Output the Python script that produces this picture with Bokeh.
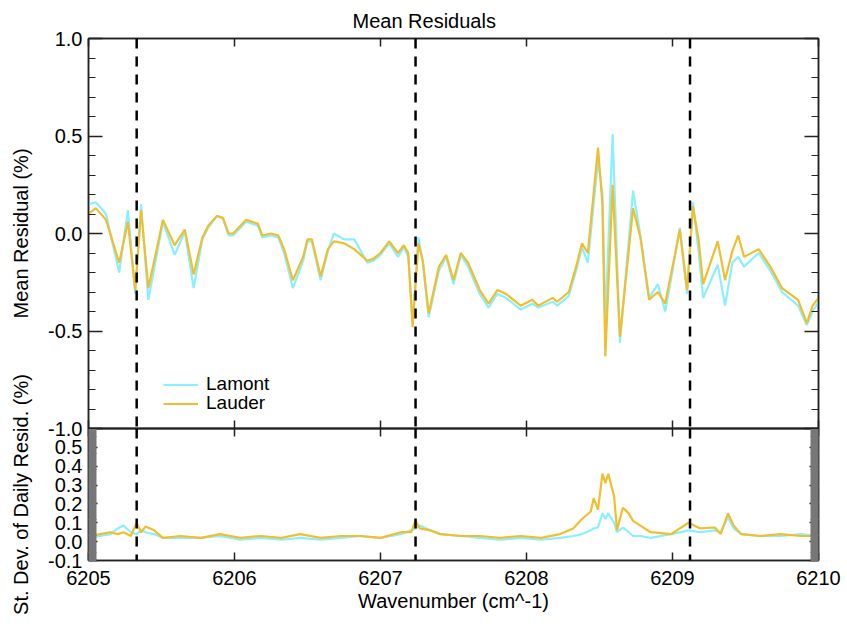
from bokeh.plotting import figure
from bokeh.models import (Range1d, Span, Legend, LegendItem, LinearAxis,
                          SingleIntervalTicker, NumeralTickFormatter, CustomJSTickFormatter)
from bokeh.layouts import column
from bokeh.embed import file_html
from bokeh.resources import INLINE

# ---------------- data ----------------
wavenumber = [
    6205.00, 6205.05, 6205.12, 6205.21, 6205.27, 6205.32, 6205.36, 6205.41, 6205.51, 6205.59,
    6205.66, 6205.72, 6205.78, 6205.82, 6205.88, 6205.92, 6205.96, 6205.99, 6206.08, 6206.16,
    6206.19, 6206.25, 6206.30, 6206.34, 6206.40, 6206.47, 6206.50, 6206.53, 6206.59, 6206.64,
    6206.68, 6206.75, 6206.82, 6206.91, 6206.95, 6207.00, 6207.06, 6207.12, 6207.16, 6207.19,
    6207.22, 6207.26, 6207.29, 6207.33, 6207.40, 6207.45, 6207.50, 6207.55, 6207.60, 6207.68,
    6207.74, 6207.80, 6207.86, 6207.96, 6208.04, 6208.08, 6208.18, 6208.21, 6208.29, 6208.34,
    6208.38, 6208.42, 6208.49, 6208.52, 6208.54, 6208.59, 6208.64, 6208.73, 6208.78, 6208.84,
    6208.90, 6208.95, 6209.00, 6209.02, 6209.05, 6209.10, 6209.14, 6209.18, 6209.21, 6209.31,
    6209.36, 6209.41, 6209.45, 6209.49, 6209.59, 6209.67, 6209.75, 6209.86, 6209.92, 6209.96,
    6210.00]

lauder_mean = [
    0.10, 0.13, 0.07, -0.15, 0.06, -0.29, 0.12, -0.28, 0.07, -0.06,
    0.02, -0.21, -0.02, 0.04, 0.09, 0.08, 0.00, 0.00, 0.07, 0.05,
    -0.01, 0.00, -0.01, -0.08, -0.24, -0.12, -0.03, -0.03, -0.22, -0.08,
    -0.04, -0.05, -0.08, -0.14, -0.13, -0.10, -0.04, -0.10, -0.06, -0.10,
    -0.48, -0.05, -0.14, -0.41, -0.17, -0.11, -0.24, -0.10, -0.15, -0.29,
    -0.36, -0.29, -0.31, -0.37, -0.34, -0.37, -0.33, -0.35, -0.30, -0.17,
    -0.05, -0.10, 0.44, 0.15, -0.63, 0.25, -0.53, 0.13, -0.02, -0.34,
    -0.30, -0.36, -0.17, -0.10, 0.02, -0.29, 0.14, -0.04, -0.26, -0.04,
    -0.24, -0.09, -0.01, -0.12, -0.08, -0.17, -0.28, -0.34, -0.46, -0.37,
    -0.33]

lamont_mean = [
    0.15, 0.16, 0.10, -0.20, 0.12, -0.31, 0.15, -0.34, 0.06, -0.11,
    0.01, -0.28, -0.03, 0.03, 0.09, 0.08, -0.01, -0.01, 0.06, 0.04,
    -0.02, -0.01, -0.02, -0.10, -0.28, -0.14, -0.04, -0.04, -0.24, -0.09,
    0.00, -0.03, -0.03, -0.15, -0.14, -0.11, -0.05, -0.12, -0.07, -0.12,
    -0.45, -0.02, -0.15, -0.43, -0.19, -0.12, -0.26, -0.11, -0.17, -0.31,
    -0.38, -0.31, -0.33, -0.39, -0.36, -0.38, -0.35, -0.37, -0.32, -0.19,
    -0.07, -0.15, 0.38, 0.20, -0.45, 0.51, -0.56, 0.22, -0.01, -0.33,
    -0.26, -0.40, -0.19, -0.10, 0.03, -0.31, 0.16, -0.10, -0.33, -0.16,
    -0.37, -0.15, -0.12, -0.17, -0.10, -0.19, -0.30, -0.37, -0.47, -0.40,
    -0.35]

wavenumber_sd = [
    6205.00, 6205.08, 6205.15, 6205.20, 6205.24, 6205.29, 6205.33, 6205.36, 6205.39, 6205.45,
    6205.51, 6205.63, 6205.77, 6205.90, 6206.04, 6206.18, 6206.32, 6206.45, 6206.59, 6206.73,
    6206.86, 6207.00, 6207.14, 6207.21, 6207.24, 6207.27, 6207.34, 6207.41, 6207.55, 6207.68,
    6207.82, 6207.96, 6208.10, 6208.23, 6208.32, 6208.38, 6208.44, 6208.46, 6208.49, 6208.52,
    6208.54, 6208.56, 6208.60, 6208.62, 6208.66, 6208.70, 6208.73, 6208.78, 6208.85, 6208.99,
    6209.11, 6209.19, 6209.29, 6209.33, 6209.38, 6209.42, 6209.47, 6209.60, 6209.74, 6209.88,
    6210.00]

lauder_sd = [
    0.03, 0.04, 0.05, 0.04, 0.05, 0.03, 0.10, 0.05, 0.08, 0.06,
    0.02, 0.03, 0.02, 0.04, 0.02, 0.03, 0.02, 0.04, 0.02, 0.03,
    0.03, 0.02, 0.05, 0.05, 0.11, 0.07, 0.06, 0.04, 0.03, 0.03,
    0.02, 0.03, 0.02, 0.04, 0.07, 0.12, 0.16, 0.23, 0.17, 0.36,
    0.31, 0.36, 0.24, 0.06, 0.18, 0.15, 0.11, 0.085, 0.05, 0.04,
    0.10, 0.07, 0.075, 0.04, 0.15, 0.085, 0.04, 0.03, 0.04, 0.03,
    0.03]

lamont_sd = [
    0.02, 0.03, 0.04, 0.07, 0.085, 0.05, 0.04, 0.06, 0.05, 0.04,
    0.02, 0.02, 0.02, 0.03, 0.01, 0.02, 0.01, 0.02, 0.01, 0.02,
    0.03, 0.02, 0.04, 0.06, 0.07, 0.085, 0.06, 0.04, 0.03, 0.02,
    0.01, 0.02, 0.01, 0.02, 0.03, 0.04, 0.06, 0.07, 0.075, 0.15,
    0.12, 0.15, 0.10, 0.05, 0.075, 0.05, 0.03, 0.03, 0.02, 0.04,
    0.06, 0.05, 0.06, 0.05, 0.13, 0.07, 0.04, 0.03, 0.03, 0.04,
    0.03]

dashed_lines = [6205.33, 6207.24, 6209.12]
series_names = ["Lamont", "Lauder"]

# ---------------- style ----------------
FONT = "Liberation Sans"
FS = "20px"
CYAN = "#8AEFFF"
GOLD = "#EFBF30"
AXC = "#222222"


def make_axis(ticker, labels=True, tick_in=12, minor_in=6, minor_color=AXC, **kw):
    if not labels:
        kw["formatter"] = CustomJSTickFormatter(code="return '';")
    ax = LinearAxis(ticker=ticker, **kw)
    ax.axis_line_color = AXC
    ax.axis_line_width = 1.5
    ax.major_tick_out = 0
    ax.major_tick_in = tick_in
    ax.major_tick_line_color = AXC
    ax.major_tick_line_width = 1.5
    ax.minor_tick_out = 0
    ax.minor_tick_in = minor_in
    ax.minor_tick_line_color = minor_color
    ax.minor_tick_line_width = 1
    ax.major_label_text_font = FONT
    ax.major_label_text_font_size = FS if labels else "1px"
    ax.major_label_text_color = "black"
    ax.major_label_standoff = 6 if labels else 0
    ax.axis_label_text_font = FONT
    ax.axis_label_text_font_size = FS
    ax.axis_label_text_font_style = "normal"
    ax.axis_label_text_color = "black"
    return ax


# ---------------- top panel ----------------
top = figure(width=847, height=448, output_backend="svg", toolbar_location=None,
             x_range=Range1d(6205, 6210), y_range=Range1d(-1, 1),
             x_axis_location=None, y_axis_location=None,
             min_border_left=88, min_border_right=29, min_border_top=38, min_border_bottom=20,
             title="Mean Residuals")
top.title.text_font = FONT
top.title.text_font_size = FS
top.title.text_font_style = "normal"
top.title.text_color = "black"
top.title.align = "left"
top.title.offset = 264
top.title.standoff = 14
top.grid.grid_line_color = None
top.outline_line_color = AXC
top.outline_line_width = 1.5

yl = make_axis(SingleIntervalTicker(interval=0.5, num_minor_ticks=5), tick_in=14, minor_in=7,
               formatter=NumeralTickFormatter(format="0.0"), axis_label="Mean Residual (%)")
yl.axis_label_standoff = 13
top.add_layout(yl, "left")
top.add_layout(make_axis(SingleIntervalTicker(interval=0.5, num_minor_ticks=5), labels=False,
                         tick_in=14, minor_in=7), "right")
top.add_layout(make_axis(SingleIntervalTicker(interval=1, num_minor_ticks=0), labels=False,
                         tick_in=8), "above")
top.add_layout(make_axis(SingleIntervalTicker(interval=1, num_minor_ticks=0), labels=False,
                         tick_in=8), "below")

r_lam = top.line(wavenumber, lamont_mean, line_color=CYAN, line_width=2.2)
r_lau = top.line(wavenumber, lauder_mean, line_color=GOLD, line_width=2.2)

for loc in dashed_lines:
    top.add_layout(Span(location=loc, dimension="height", line_color="black",
                        line_width=2.5, line_dash="10 8"))

for name, rend, yoff in [(series_names[0], r_lam, 33), (series_names[1], r_lau, 14)]:
    lg = Legend(items=[LegendItem(label=name, renderers=[rend])], location=(75, yoff))
    lg.padding = 0
    lg.margin = 0
    lg.spacing = 0
    lg.glyph_width = 35
    lg.glyph_height = 19
    lg.label_height = 19
    lg.label_standoff = 8
    lg.border_line_alpha = 0
    lg.background_fill_alpha = 0
    lg.label_text_font = FONT
    lg.label_text_font_size = "19px"
    lg.label_text_line_height = 0.9
    lg.label_text_color = "black"
    top.add_layout(lg)

# ---------------- bottom panel ----------------
bot = figure(width=847, height=268, output_backend="svg", toolbar_location=None,
             x_range=top.x_range, y_range=Range1d(-0.1, 0.6),
             x_axis_location=None, y_axis_location=None,
             min_border_left=88, min_border_right=29, min_border_top=68, min_border_bottom=68,
             background_fill_color=None, border_fill_color=None,
             margin=(-88, 0, 0, 0))
bot.grid.grid_line_color = None
bot.outline_line_color = AXC
bot.outline_line_width = 1.5

ybl = make_axis(SingleIntervalTicker(interval=0.1, num_minor_ticks=20), tick_in=9, minor_in=8,
                minor_color="#777777", formatter=NumeralTickFormatter(format="0.0"),
                axis_label="St. Dev. of Daily Resid. (%)")
ybl.axis_label_standoff = 13
bot.add_layout(ybl, "left")
bot.add_layout(make_axis(SingleIntervalTicker(interval=0.1, num_minor_ticks=20), labels=False,
                         tick_in=9, minor_in=8, minor_color="#777777"), "right")
bot.add_layout(make_axis(SingleIntervalTicker(interval=1, num_minor_ticks=0), labels=False,
                         tick_in=8), "above")
xb = make_axis(SingleIntervalTicker(interval=1, num_minor_ticks=0), tick_in=8,
               formatter=NumeralTickFormatter(format="0"), axis_label="Wavenumber (cm^-1)")
xb.major_label_standoff = 10
xb.axis_label_standoff = 2
bot.add_layout(xb, "below")

bot.line(wavenumber_sd, lamont_sd, line_color=CYAN, line_width=2.2)
bot.line(wavenumber_sd, lauder_sd, line_color=GOLD, line_width=2.2)

for loc in dashed_lines:
    bot.add_layout(Span(location=loc, dimension="height", line_color="black",
                        line_width=2.5, line_dash="10 8"))

layout = column(top, bot)
open("out.html", "w").write(file_html(layout, INLINE))
